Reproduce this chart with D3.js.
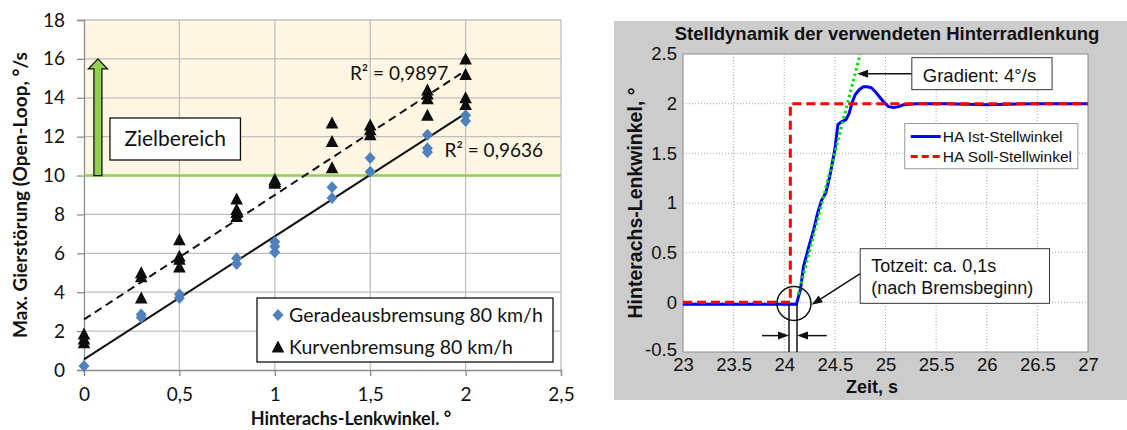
<!DOCTYPE html>
<html>
<head>
<meta charset="utf-8">
<script src="https://d3js.org/d3.v7.min.js"></script>
<style>
  body { margin: 0; background: #fff; }
  .calibri { font-family: Lato, "Open Sans", sans-serif; }
  .arial { font-family: "Liberation Sans", Arial, sans-serif; }
</style>
</head>
<body>
<svg id="chart" width="1127" height="430"></svg>
<script>
// ---------------- left chart: Gierstoerung vs. Hinterachs-Lenkwinkel ----------------
var xTicksL = [0, 0.5, 1, 1.5, 2, 2.5];
var yTicksL = [0, 2, 4, 6, 8, 10, 12, 14, 16, 18];

var geradeX = [0, 0.3, 0.3, 0.5, 0.5, 0.8, 0.8, 1, 1, 1, 1.3, 1.3, 1.5, 1.5, 1.8, 1.8, 1.8, 2, 2];
var geradeY = [0.2, 2.7, 2.85, 3.7, 3.9, 5.45, 5.75, 6.05, 6.35, 6.6, 8.85, 9.4, 10.2, 10.9, 11.2, 11.4, 12.1, 12.8, 13.1];

var kurveX = [0, 0, 0, 0.3, 0.3, 0.3, 0.5, 0.5, 0.5, 0.5, 0.8, 0.8, 0.8, 0.8, 1, 1, 1,
              1.3, 1.3, 1.3, 1.5, 1.5, 1.5, 1.8, 1.8, 1.8, 1.8, 2, 2, 2, 2];
var kurveY = [1.4, 1.6, 1.85, 3.7, 4.8, 5.0, 5.3, 5.7, 5.85, 6.7, 7.9, 8.1, 8.25, 8.8, 9.6, 9.7, 9.8,
              10.4, 11.75, 12.7, 12.1, 12.35, 12.6, 13.1, 13.95, 14.2, 14.4, 13.65, 14.0, 15.2, 16.0];

// Excel trend lines
var trendGeradeX = [0, 2];
var trendGeradeY = [0.55, 13.2];
var trendKurveX = [0, 2];
var trendKurveY = [2.6, 15.4];
var r2Texts = ["R\u00B2 = 0,9897", "R\u00B2 = 0,9636"];
var zielGrenze = 10;      // lower border of the target area
var zielPfeil = [10, 16]; // green arrow from / to

var legendL = ["Geradeausbremsung 80 km/h", "Kurvenbremsung 80 km/h"];

// ---------------- right chart: Stelldynamik ----------------
var xTicksR = [23, 23.5, 24, 24.5, 25, 25.5, 26, 26.5, 27];
var yTicksR = [-0.5, 0, 0.5, 1, 1.5, 2, 2.5];

var istZeit = [23, 23.5, 24, 24.12, 24.16, 24.19, 24.24, 24.29, 24.33, 24.37, 24.41, 24.45, 24.5, 24.53,
               24.57, 24.61, 24.64, 24.67, 24.7, 24.74, 24.78, 24.82, 24.86, 24.9, 24.94, 24.98,
               25.03, 25.08, 25.13, 25.18, 25.3, 25.6, 26, 26.5, 27];
var istWinkel = [-0.02, -0.02, -0.02, -0.02, 0.13, 0.36, 0.55, 0.73, 0.9, 1.03, 1.1, 1.27, 1.54, 1.79,
                 1.82, 1.84, 1.9, 2.01, 2.09, 2.14, 2.17, 2.17, 2.16, 2.12, 2.07, 2.02,
                 1.97, 1.96, 1.97, 1.99, 2.0, 2.0, 1.99, 2.0, 2.0];

var sollZeit = [23, 24.06, 24.06, 27];
var sollWinkel = [0, 0, 2, 2];

var gradZeit = [24.14, 24.75];
var gradWinkel = [0.08, 2.5];

var legendR = ["HA Ist-Stellwinkel", "HA Soll-Stellwinkel"];

var svg = d3.select("#chart");

// =====================================================================
// left chart
// =====================================================================
var xL = d3.scaleLinear().domain([0, 2.5]).range([84, 561]);
var yL = d3.scaleLinear().domain([0, 18]).range([370, 20]);
var komma = function(d) { return String(d).replace(".", ","); };

var gL = svg.append("g").attr("class", "calibri");

// target area background
gL.append("rect")
  .attr("x", xL(0)).attr("y", yL(18))
  .attr("width", xL(2.5) - xL(0)).attr("height", yL(zielGrenze) - yL(18))
  .attr("fill", "#fff7e3");

// grid
gL.selectAll(".hgrid").data(yTicksL.slice(1)).enter().append("line")
  .attr("x1", xL(0)).attr("x2", xL(2.5))
  .attr("y1", function(d) { return yL(d); }).attr("y2", function(d) { return yL(d); })
  .attr("stroke", "#bfbfbf").attr("stroke-width", 1.3);
gL.selectAll(".vgrid").data(xTicksL.slice(1)).enter().append("line")
  .attr("x1", function(d) { return xL(d); }).attr("x2", function(d) { return xL(d); })
  .attr("y1", yL(0)).attr("y2", yL(18))
  .attr("stroke", "#bfbfbf").attr("stroke-width", 1.3);

// axes
var axL = gL.append("g").attr("transform", "translate(" + xL(0) + ",0)")
  .call(d3.axisLeft(yL).tickValues(yTicksL).tickSize(7).tickPadding(12).tickFormat(komma));
var axB = gL.append("g").attr("transform", "translate(0," + yL(0) + ")")
  .call(d3.axisBottom(xL).tickValues(xTicksL).tickSize(6).tickPadding(12).tickFormat(komma));
[axL, axB].forEach(function(a) {
  a.select(".domain").attr("stroke", "#8c8c8c").attr("stroke-width", 1.3);
  a.selectAll(".tick line").attr("stroke", "#8c8c8c").attr("stroke-width", 1.3);
  a.selectAll("text").attr("font-size", 19).attr("fill", "#111")
    .style("font-family", "Lato, 'Open Sans', sans-serif");
});

// green border line of target area
gL.append("line")
  .attr("x1", xL(0)).attr("x2", xL(2.5))
  .attr("y1", yL(zielGrenze)).attr("y2", yL(zielGrenze))
  .attr("stroke", "#92d050").attr("stroke-width", 2.5);

// green block arrow
var ax = xL(0.073);
var aBot = yL(zielPfeil[0]), aTop = yL(zielPfeil[1]);
gL.append("path")
  .attr("d", "M" + (ax - 4) + "," + aBot + "V" + (aTop + 10) + "H" + (ax - 9.5) +
             "L" + ax + "," + aTop + "L" + (ax + 9.5) + "," + (aTop + 10) + "H" + (ax + 4) +
             "V" + aBot + "Z")
  .attr("fill", "#92d050").attr("stroke", "#111").attr("stroke-width", 1.3);

// Zielbereich box
gL.append("rect")
  .attr("x", xL(0.136)).attr("y", yL(12.96))
  .attr("width", xL(0.82) - xL(0.136)).attr("height", yL(10.8) - yL(12.96))
  .attr("fill", "#fff").attr("stroke", "#111").attr("stroke-width", 1.3);
gL.append("text")
  .attr("x", (xL(0.136) + xL(0.82)) / 2).attr("y", (yL(12.96) + yL(10.8)) / 2 + 7)
  .attr("text-anchor", "middle").attr("font-size", 21).attr("fill", "#111")
  .text("Zielbereich");

// trend lines
var lineL = d3.line().x(function(d) { return xL(d[0]); }).y(function(d) { return yL(d[1]); });
gL.append("path")
  .attr("d", lineL(d3.zip(trendGeradeX, trendGeradeY)))
  .attr("fill", "none").attr("stroke", "#111").attr("stroke-width", 2);
gL.append("path")
  .attr("d", lineL(d3.zip(trendKurveX, trendKurveY)))
  .attr("fill", "none").attr("stroke", "#111").attr("stroke-width", 2)
  .attr("stroke-dasharray", "8,5");

// markers
var diamond = "M0,-6L5.5,0L0,6L-5.5,0Z";
var triangle = "M0,-6.5L6.3,5.5L-6.3,5.5Z";
gL.selectAll(".gerade").data(d3.zip(geradeX, geradeY)).enter().append("path")
  .attr("d", diamond)
  .attr("transform", function(d) { return "translate(" + xL(d[0]) + "," + yL(d[1]) + ")"; })
  .attr("fill", "#4f81bd");
gL.selectAll(".kurve").data(d3.zip(kurveX, kurveY)).enter().append("path")
  .attr("d", triangle)
  .attr("transform", function(d) { return "translate(" + xL(d[0]) + "," + yL(d[1]) + ")"; })
  .attr("fill", "#0d0d0d");

// R^2 labels
gL.append("text").attr("x", xL(1.394)).attr("y", yL(14.9))
  .attr("font-size", 19).attr("fill", "#111").text(r2Texts[0]);
gL.append("text").attr("x", xL(1.89)).attr("y", yL(10.95))
  .attr("font-size", 19).attr("fill", "#111").text(r2Texts[1]);

// legend
var lgL = gL.append("g");
lgL.append("rect").attr("x", 257).attr("y", 298).attr("width", 296).attr("height", 64)
  .attr("fill", "#fff").attr("stroke", "#111").attr("stroke-width", 1.3);
[diamond, triangle].forEach(function(sym, i) {
  var yy = 315 + i * 32;
  lgL.append("path").attr("d", sym)
    .attr("transform", "translate(278," + yy + ")")
    .attr("fill", i === 0 ? "#4f81bd" : "#0d0d0d");
  lgL.append("text").attr("x", 289).attr("y", yy + 7)
    .attr("font-size", 19.5).attr("fill", "#111").text(legendL[i]);
});

// axis titles
gL.append("text")
  .attr("transform", "translate(27," + ((yL(0) + yL(18)) / 2) + ") rotate(-90)")
  .attr("text-anchor", "middle").attr("font-size", 19).attr("font-weight", "bold").attr("fill", "#111")
  .text("Max. Gierst\u00F6rung (Open-Loop, \u00B0/s");
gL.append("text")
  .attr("x", 351).attr("y", 425)
  .attr("text-anchor", "middle").attr("font-size", 18).attr("font-weight", "bold").attr("fill", "#111")
  .text("Hinterachs-Lenkwinkel. \u00B0");

// =====================================================================
// right chart
// =====================================================================
var xR = d3.scaleLinear().domain([23, 27]).range([683, 1088]);
var yR = d3.scaleLinear().domain([-0.5, 2.5]).range([352, 54]);

var gR = svg.append("g").attr("class", "arial");

gR.append("rect").attr("x", 614).attr("y", 21).attr("width", 513).attr("height", 379)
  .attr("fill", "#cccccc");
gR.append("rect").attr("x", xR(23)).attr("y", yR(2.5))
  .attr("width", xR(27) - xR(23)).attr("height", yR(-0.5) - yR(2.5))
  .attr("fill", "#fff");

// dotted grid
gR.selectAll(".vg").data(xTicksR.slice(1, -1)).enter().append("line")
  .attr("x1", function(d) { return xR(d); }).attr("x2", function(d) { return xR(d); })
  .attr("y1", yR(-0.5)).attr("y2", yR(2.5))
  .attr("stroke", "#a8a8a8").attr("stroke-width", 1).attr("stroke-dasharray", "1,2");
gR.selectAll(".hg").data(yTicksR.slice(1, -1)).enter().append("line")
  .attr("x1", xR(23)).attr("x2", xR(27))
  .attr("y1", function(d) { return yR(d); }).attr("y2", function(d) { return yR(d); })
  .attr("stroke", "#a8a8a8").attr("stroke-width", 1).attr("stroke-dasharray", "1,2");

// plot border
gR.append("rect").attr("x", xR(23)).attr("y", yR(2.5))
  .attr("width", xR(27) - xR(23)).attr("height", yR(-0.5) - yR(2.5))
  .attr("fill", "none").attr("stroke", "#8a8a8a").attr("stroke-width", 1);

// tick labels (Matlab style: 2, 2.5, -0.5)
var plain = function(d) { return String(d); };
var axRL = gR.append("g").attr("transform", "translate(" + xR(23) + ",0)")
  .call(d3.axisLeft(yR).tickValues(yTicksR).tickSize(0).tickPadding(6).tickFormat(plain));
var axRB = gR.append("g").attr("transform", "translate(0," + yR(-0.5) + ")")
  .call(d3.axisBottom(xR).tickValues(xTicksR).tickSize(0).tickPadding(6).tickFormat(plain));
[axRL, axRB].forEach(function(a) {
  a.select(".domain").remove();
  a.selectAll("text").attr("font-size", 18.5).attr("fill", "#111")
    .style("font-family", "'Liberation Sans', Arial, sans-serif");
});
axRL.selectAll(".tick").filter(function(d) { return d === -0.5; })
  .select("text").attr("dy", "0.2em");

// lines
var lineR = d3.line().x(function(d) { return xR(d[0]); }).y(function(d) { return yR(d[1]); });
gR.append("path").attr("d", lineR(d3.zip(istZeit, istWinkel)))
  .attr("fill", "none").attr("stroke", "#0000ff").attr("stroke-width", 3)
  .attr("stroke-linejoin", "round");
gR.append("path").attr("d", lineR(d3.zip(sollZeit, sollWinkel)))
  .attr("fill", "none").attr("stroke", "#ff0000").attr("stroke-width", 3)
  .attr("stroke-dasharray", "9,5");
gR.append("path").attr("d", lineR(d3.zip(gradZeit, gradWinkel)))
  .attr("fill", "none").attr("stroke", "#00e000").attr("stroke-width", 3)
  .attr("stroke-dasharray", "2.5,3");

// arrow helper
function pfeil(x1, y1, x2, y2) {
  var ang = Math.atan2(y2 - y1, x2 - x1), L = 11, W = 4;
  var bx = x2 - L * Math.cos(ang), by = y2 - L * Math.sin(ang);
  gR.append("line").attr("x1", x1).attr("y1", y1).attr("x2", bx).attr("y2", by)
    .attr("stroke", "#111").attr("stroke-width", 1.5);
  gR.append("path")
    .attr("d", "M" + x2 + "," + y2 +
               "L" + (bx + W * Math.sin(ang)) + "," + (by - W * Math.cos(ang)) +
               "L" + (bx - W * Math.sin(ang)) + "," + (by + W * Math.cos(ang)) + "Z")
    .attr("fill", "#111");
}

// Gradient annotation
pfeil(xR(25.26), yR(2.30), xR(24.72), yR(2.30));
gR.append("rect").attr("x", xR(25.26)).attr("y", yR(2.463))
  .attr("width", xR(26.645) - xR(25.26)).attr("height", yR(2.141) - yR(2.463))
  .attr("fill", "#fff").attr("stroke", "#333").attr("stroke-width", 1);
gR.append("text").attr("x", xR(25.26) + 11).attr("y", yR(2.141) - 8)
  .attr("font-size", 18.5).attr("fill", "#111").text("Gradient: 4\u00B0/s");

// Totzeit annotation
gR.append("circle").attr("cx", xR(24.096)).attr("cy", yR(-0.012)).attr("r", 17)
  .attr("fill", "none").attr("stroke", "#111").attr("stroke-width", 1.5);
[24.047, 24.126].forEach(function(t) {
  gR.append("line").attr("x1", xR(t)).attr("x2", xR(t))
    .attr("y1", yR(-0.02)).attr("y2", yR(-0.5))
    .attr("stroke", "#111").attr("stroke-width", 1.5);
});
pfeil(xR(23.78), yR(-0.335), xR(24.047), yR(-0.335));
pfeil(xR(24.42), yR(-0.335), xR(24.126), yR(-0.335));
pfeil(xR(24.75), yR(0.29), xR(24.27), yR(-0.025));
gR.append("rect").attr("x", xR(24.75)).attr("y", yR(0.54))
  .attr("width", xR(26.62) - xR(24.75)).attr("height", yR(-0.01) - yR(0.54))
  .attr("fill", "#fff").attr("stroke", "#333").attr("stroke-width", 1);
gR.append("text").attr("x", xR(24.75) + 11).attr("y", yR(0.54) + 23)
  .attr("font-size", 18).attr("fill", "#111").text("Totzeit: ca. 0,1s");
gR.append("text").attr("x", xR(24.75) + 11).attr("y", yR(0.54) + 45)
  .attr("font-size", 18).attr("fill", "#111").text("(nach Bremsbeginn)");

// legend
var lgR = gR.append("g");
lgR.append("rect").attr("x", xR(25.19)).attr("y", yR(1.80))
  .attr("width", xR(26.90) - xR(25.19)).attr("height", yR(1.345) - yR(1.80))
  .attr("fill", "#fff").attr("stroke", "#999").attr("stroke-width", 1);
[["#0000ff", null], ["#ff0000", "7,4"]].forEach(function(s, i) {
  var yy = yR(1.80) + 13 + i * 20;
  var ln = lgR.append("line").attr("x1", xR(25.19) + 6).attr("x2", xR(25.19) + 36)
    .attr("y1", yy).attr("y2", yy).attr("stroke", s[0]).attr("stroke-width", 3);
  if (s[1]) ln.attr("stroke-dasharray", s[1]);
  lgR.append("text").attr("x", xR(25.19) + 38).attr("y", yy + 5.5)
    .attr("font-size", 15.5).attr("fill", "#111").text(legendR[i]);
});

// titles
gR.append("text").attr("x", 887).attr("y", 40).attr("text-anchor", "middle")
  .attr("font-size", 18.5).attr("font-weight", "bold").attr("fill", "#111")
  .text("Stelldynamik der verwendeten Hinterradlenkung");
gR.append("text").attr("x", 872).attr("y", 393).attr("text-anchor", "middle")
  .attr("font-size", 18).attr("font-weight", "bold").attr("fill", "#111")
  .text("Zeit, s");
gR.append("text")
  .attr("transform", "translate(642," + ((yR(-0.5) + yR(2.5)) / 2) + ") rotate(-90)")
  .attr("text-anchor", "middle").attr("font-size", 19.5).attr("font-weight", "bold").attr("fill", "#111")
  .text("Hinterachs-Lenkwinkel, \u00B0");
</script>
</body>
</html>
